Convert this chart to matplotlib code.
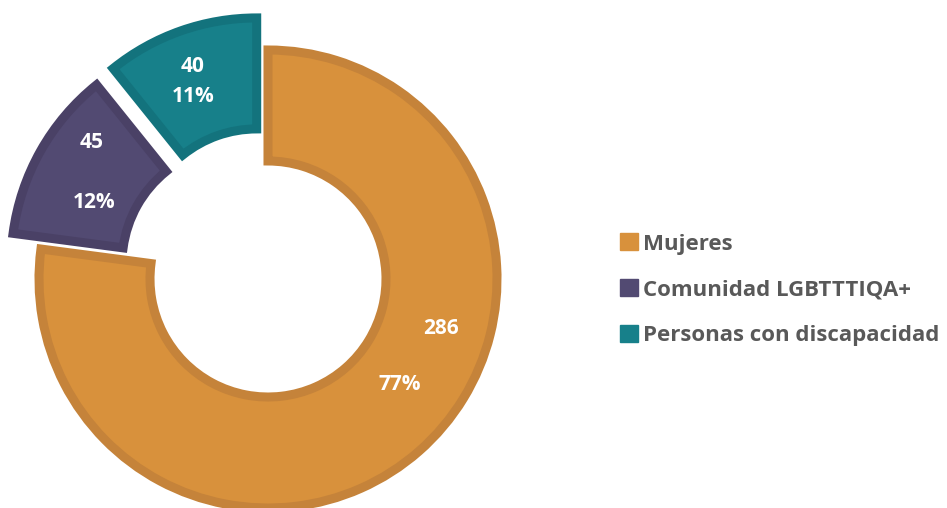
import numpy as np
import matplotlib
matplotlib.use("Agg")
import matplotlib.pyplot as plt
from matplotlib.patches import Patch

plt.rcParams['font.family'] = ['Open Sans', 'DejaVu Sans']

categories = ['Mujeres', 'Comunidad LGBTTTIQA+', 'Personas con discapacidad']
values = [286, 45, 40]
percents = ['77%', '12%', '11%']
fills = ['#D8913C', '#524A72', '#17808A']
edges = ['#C5833A', '#4A4166', '#13737D']

# label positions (pixels, origin bottom-left)
value_pos = [(441, 180), (92, 365), (193, 441)]
pct_pos = [(400, 123), (94, 305), (193, 411)]

fig = plt.figure(figsize=(9.47, 5.08), dpi=100)
ax = fig.add_axes([0, 0, 1, 1])

R = 229
# pie explode is in data units (pixels here)
explode = [0, 32, 34]
wedges, _ = ax.pie(values, colors=fills, startangle=90, counterclock=False,
                   explode=explode, radius=R, center=(268, 229),
                   wedgeprops=dict(width=111, linewidth=6.5),
                   frame=True)
for w, ec in zip(wedges, edges):
    w.set_edgecolor(ec)
    w.set_joinstyle('miter')
ax.set_xlim(0, 947)
ax.set_ylim(0, 508)
ax.axis('off')

for v, p, vp, pp in zip(values, percents, value_pos, pct_pos):
    ax.text(vp[0], vp[1], str(v), color='white', fontsize=15, fontweight='bold',
            ha='center', va='center')
    ax.text(pp[0], pp[1], p, color='white', fontsize=15, fontweight='bold',
            ha='center', va='center')

handles = [Patch(facecolor=f, edgecolor=f) for f in fills]
leg = fig.legend(handles, categories, loc='center left', bbox_to_anchor=(0.634, 0.43),
                 frameon=False, handlelength=0.8, handleheight=0.8,
                 handletextpad=0.2, labelspacing=1.1,
                 prop=dict(size=16, weight='bold'))
for t in leg.get_texts():
    t.set_color('#595959')

fig.savefig('out.png', dpi=100)
